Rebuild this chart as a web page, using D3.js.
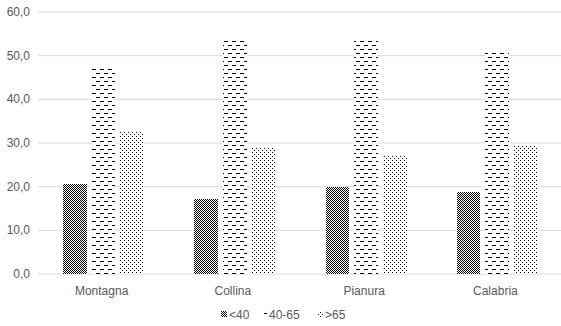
<!DOCTYPE html>
<html><head><meta charset="utf-8">
<script src="https://cdn.jsdelivr.net/npm/d3@7"></script>
<style>html,body{margin:0;padding:0;background:#fff;}svg{display:block;}</style>
</head><body>
<script>
const categories = ["Montagna", "Collina", "Pianura", "Calabria"];
const seriesNames = ["<40", "40-65", ">65"];
const under40 = [20.5, 17.0, 19.7, 18.6];
const from40to65 = [47.1, 53.5, 53.5, 51.0];
const over65 = [32.3, 29.0, 26.8, 29.3];
const yTicks = [0, 10, 20, 30, 40, 50, 60];

const seriesValues = [under40, from40to65, over65];
const W = 561, H = 326;
const svg = d3.select("body").append("svg").attr("width", W).attr("height", H);
const defs = svg.append("defs");

// checkerboard
const p0 = defs.append("pattern").attr("id","pat0").attr("patternUnits","userSpaceOnUse").attr("width",2).attr("height",2);
p0.append("rect").attr("width",2).attr("height",2).attr("fill","#fff");
p0.append("rect").attr("x",0).attr("y",0).attr("width",1).attr("height",1).attr("fill","#000");
p0.append("rect").attr("x",1).attr("y",1).attr("width",1).attr("height",1).attr("fill","#000");
// dashes
const p1 = defs.append("pattern").attr("id","pat1").attr("patternUnits","userSpaceOnUse").attr("width",8).attr("height",8);
p1.append("rect").attr("width",8).attr("height",8).attr("fill","#fff");
p1.append("rect").attr("x",0).attr("y",1).attr("width",4).attr("height",1).attr("fill","#000");
p1.append("rect").attr("x",4).attr("y",5).attr("width",4).attr("height",1).attr("fill","#000");
// dots
const p2 = defs.append("pattern").attr("id","pat2").attr("patternUnits","userSpaceOnUse").attr("width",4).attr("height",4);
p2.append("rect").attr("width",4).attr("height",4).attr("fill","#fff");
p2.append("rect").attr("x",0).attr("y",0).attr("width",1).attr("height",1).attr("fill","#000");
p2.append("rect").attr("x",2).attr("y",2).attr("width",1).attr("height",1).attr("fill","#000");

const fills = ["url(#pat0)", "url(#pat1)", "url(#pat2)"];

const y = d3.scaleLinear().domain([0, 60]).range([273.5, 11.5]);
const x0 = d3.scaleBand().domain(categories).range([38, 563]).padding(0);
const x1 = d3.scaleBand().domain(seriesNames).range([25, 106]).paddingInner(0.18).paddingOuter(0);

const loc = d3.formatLocale({decimal: ",", thousands: ".", grouping: [3], currency: ["", "€"]});
const fmt = loc.format(".1f");
const txt = "#595959";
const font = "Liberation Sans, Arial, sans-serif";
const fs = 12;

// gridlines
const yAxis = d3.axisLeft(y).tickValues(yTicks).tickSize(-(561 - 38)).tickFormat(fmt).tickPadding(8);
const gy = svg.append("g").attr("transform", "translate(38,0)").call(yAxis);
gy.select(".domain").remove();
gy.selectAll(".tick line").attr("stroke", "#d9d9d9").attr("stroke-width", 1);
gy.selectAll(".tick text").attr("fill", txt).attr("font-family", font).attr("font-size", fs);

// bars (pixel-aligned so patterns stay crisp)
const gb = svg.append("g");
categories.forEach((c, ci) => {
  seriesNames.forEach((s, si) => {
    const v = seriesValues[si][ci];
    const xl = Math.round(x0(c) + x1(s));
    const xr = Math.round(x0(c) + x1(s) + x1.bandwidth());
    const yt = Math.round(y(v));
    const yb = Math.round(y(0));
    gb.append("rect")
      .attr("x", xl).attr("width", xr - xl)
      .attr("y", yt).attr("height", yb - yt)
      .attr("fill", fills[si]);
  });
});

// x axis labels
const xAxis = d3.axisBottom(x0).tickSize(0).tickPadding(0);
const gx = svg.append("g").attr("transform", `translate(-2,${y(0)})`).call(xAxis);
gx.select(".domain").remove();
gx.selectAll(".tick text").attr("fill", txt).attr("font-family", font).attr("font-size", fs).attr("dy", 21);

// legend
const legendX = [221, 261, 317];
const lg = svg.append("g");
seriesNames.forEach((s, i) => {
  lg.append("rect").attr("x", legendX[i]).attr("y", 311).attr("width", 6).attr("height", 6).attr("fill", fills[i]);
  lg.append("text").attr("x", legendX[i] + 8).attr("y", 318.5).text(s)
    .attr("fill", txt).attr("font-family", font).attr("font-size", fs);
});
</script>
</body></html>
